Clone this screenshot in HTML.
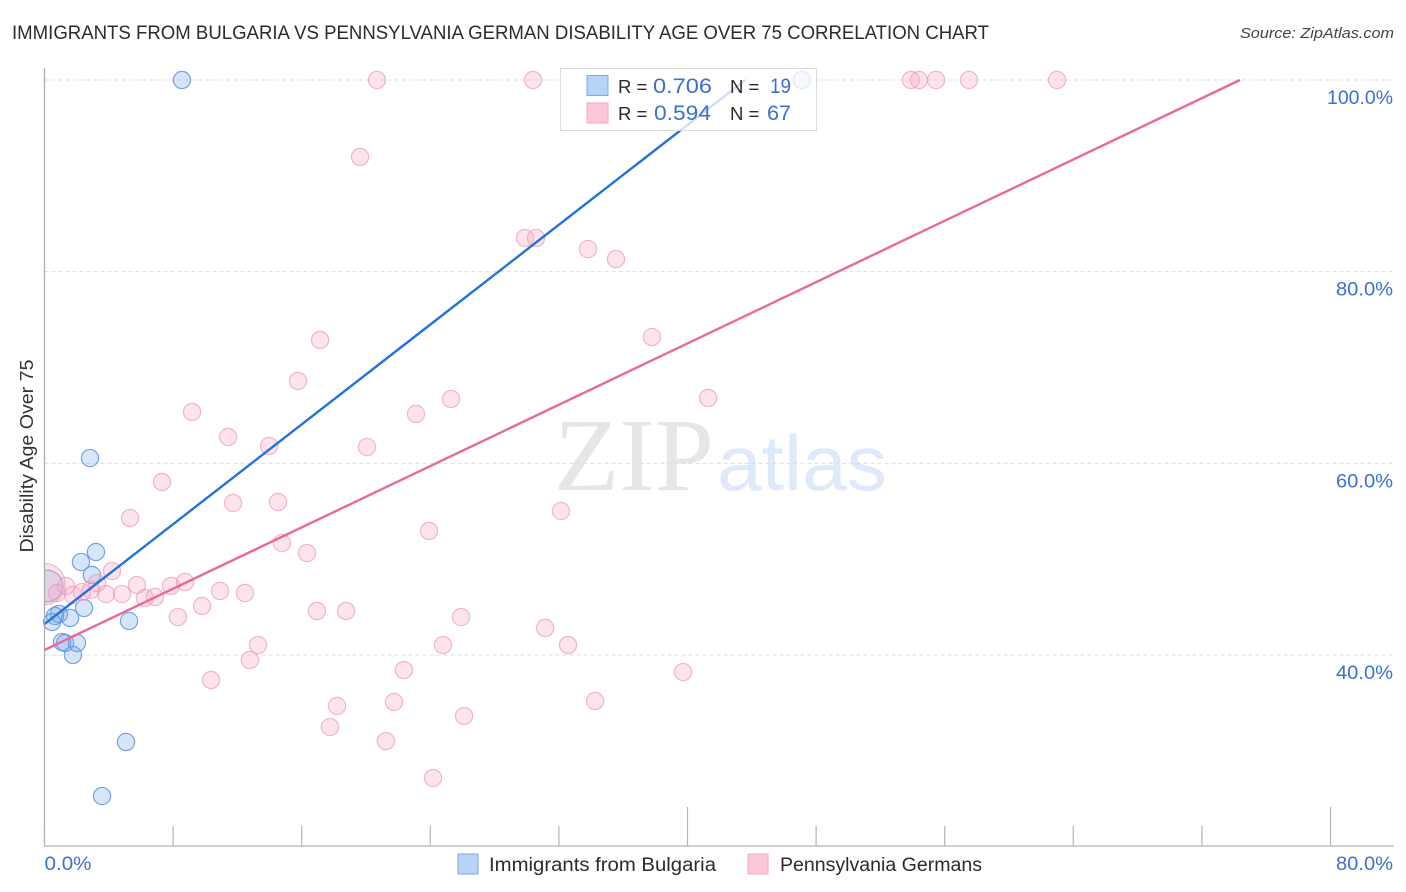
<!DOCTYPE html>
<html lang="en">
<head>
<meta charset="utf-8">
<title>Immigrants from Bulgaria vs Pennsylvania German Disability Age Over 75 Correlation Chart</title>
<style>
html,body{margin:0;padding:0;background:#fff;}
body{width:1406px;height:892px;overflow:hidden;}
svg{display:block;font-family:"Liberation Sans",sans-serif;}
</style>
</head>
<body>
<svg id="chart" width="1406" height="892" viewBox="0 0 1406 892" xmlns="http://www.w3.org/2000/svg">
  <rect x="0" y="0" width="1406" height="892" fill="#ffffff"/>
  <text x="12" y="39" font-size="19" fill="#2b2b2b" textLength="977" lengthAdjust="spacingAndGlyphs">IMMIGRANTS FROM BULGARIA VS PENNSYLVANIA GERMAN DISABILITY AGE OVER 75 CORRELATION CHART</text>
  <text x="1394" y="38" font-size="15" font-style="italic" fill="#444" text-anchor="end" textLength="154" lengthAdjust="spacingAndGlyphs">Source: ZipAtlas.com</text>

  <g>
    <text x="554" y="490" font-family="'Liberation Serif',serif" font-size="104" fill="#e6e6e6" textLength="160" lengthAdjust="spacingAndGlyphs">ZIP</text>
    <text x="717" y="490" font-size="78" fill="#deeafa" textLength="170" lengthAdjust="spacingAndGlyphs">atlas</text>
  </g>

  <g id="grid"></g>
  <g id="points-blue"></g>
  <g id="points-pink"></g>
  <rect x="0" y="555" width="44.5" height="60" fill="#ffffff"/>
  <g id="lines"></g>
  <g id="axes">
    <line x1="44.5" y1="68" x2="44.5" y2="846.5" stroke="#a8a8a8" stroke-width="1.2"/>
    <line x1="44" y1="846" x2="1394" y2="846" stroke="#b4b4b4" stroke-width="1.2"/>
  </g>
  <g id="ticks"></g>
  <g id="labels"></g>

  <text transform="translate(33,456) rotate(-90)" font-size="18" fill="#333" text-anchor="middle" textLength="193" lengthAdjust="spacingAndGlyphs">Disability Age Over 75</text>

  <g>
    <rect x="560.5" y="68.5" width="256" height="62" fill="#ffffff" fill-opacity="0.78" stroke="#dcdcdc" stroke-width="1"/>
    <rect x="587" y="75.5" width="21" height="20" fill="#b7d3f7" stroke="#7fa9e0" stroke-width="1"/>
    <rect x="587" y="103" width="21" height="20" fill="#fcc8d9" stroke="#f3a9c0" stroke-width="1"/>
    <text x="618" y="93" font-size="18.5" fill="#2b2b2b">R =</text>
    <text x="653" y="93" font-size="21" fill="#3b6fd4" textLength="59" lengthAdjust="spacingAndGlyphs">0.706</text>
    <text x="730" y="93" font-size="18.5" fill="#2b2b2b">N =</text>
    <text x="770" y="93" font-size="21" fill="#3b6fd4" textLength="21" lengthAdjust="spacingAndGlyphs">19</text>
    <text x="618" y="120" font-size="18.5" fill="#2b2b2b">R =</text>
    <text x="654" y="120" font-size="21" fill="#3b6fd4" textLength="57" lengthAdjust="spacingAndGlyphs">0.594</text>
    <text x="730" y="120" font-size="18.5" fill="#2b2b2b">N =</text>
    <text x="767" y="120" font-size="21" fill="#3b6fd4" textLength="24" lengthAdjust="spacingAndGlyphs">67</text>
  </g>

  <g>
    <rect x="458" y="854" width="20" height="20" fill="#b7d3f7" stroke="#7fa9e0" stroke-width="1"/>
    <text x="489" y="871" font-size="19" fill="#2b2b2b" textLength="227" lengthAdjust="spacingAndGlyphs">Immigrants from Bulgaria</text>
    <rect x="748" y="854" width="20" height="20" fill="#fcc8d9" stroke="#f3a9c0" stroke-width="1"/>
    <text x="780" y="871" font-size="19" fill="#2b2b2b" textLength="202" lengthAdjust="spacingAndGlyphs">Pennsylvania Germans</text>
  </g>
</svg>
<script>
var yTickValues = [100, 80, 60, 40];
var yTickLabels = ["100.0%", "80.0%", "60.0%", "40.0%"];
var xTickValues = [0, 8, 16, 24, 32, 40, 48, 56, 64, 72, 80];
var xAxisLabels = ["0.0%", "80.0%"];

var blueX = [8.55, 47.12, 2.83, 3.2, 2.27, 2.95, 0.15, 2.46, 0.65, 0.9, 0.47, 1.59, 5.26, 1.09, 1.28, 2.02, 1.77, 5.07, 3.58];
var blueY = [100, 100, 60.55, 50.75, 49.7, 48.35, 47.2, 44.9, 44.07, 44.28, 43.44, 43.86, 43.55, 41.35, 41.25, 41.25, 40, 30.92, 25.28];
var blueWeight = [1, 1, 1, 1, 1, 1, 1.85, 1, 1, 1, 1, 1, 1, 1, 1, 1, 1, 1, 1];

var pinkX = [20.68, 30.39, 53.9, 54.4, 55.46, 57.51, 62.99, 19.63, 29.89, 30.58, 33.81, 35.55, 17.14, 37.79, 15.77, 41.28, 25.29, 9.18, 23.11, 11.42, 13.97, 20.06, 7.31, 11.73, 14.53, 32.13, 5.32, 23.92, 14.77, 16.33, 4.2, 0, 0.78, 1.34, 1.77, 2.33, 2.89, 3.27, 3.83, 4.82, 5.75, 6.25, 6.87, 7.87, 8.74, 8.3, 9.8, 10.92, 12.47, 16.95, 18.76, 25.91, 31.14, 24.79, 32.57, 13.28, 12.78, 22.36, 39.72, 10.36, 34.25, 21.74, 18.2, 26.1, 17.76, 21.24, 24.17];
var pinkY = [100, 100, 100, 100, 100, 100, 100, 91.97, 83.51, 83.51, 82.36, 81.32, 72.87, 73.18, 68.59, 66.82, 66.71, 65.36, 65.15, 62.75, 61.81, 61.7, 58.05, 55.86, 55.96, 55.02, 54.29, 52.94, 51.69, 50.64, 48.76, 47.4, 46.47, 47.2, 46.26, 46.57, 46.78, 47.51, 46.36, 46.36, 47.3, 45.95, 46.05, 47.2, 47.62, 43.96, 45.11, 46.68, 46.47, 44.59, 44.59, 43.96, 42.82, 41.04, 41.04, 41.04, 39.48, 38.43, 38.22, 37.39, 35.2, 35.09, 34.68, 33.63, 32.48, 31.02, 27.16];
var pinkWeight = [1, 1, 1, 1, 1, 1, 1, 1, 1, 1, 1, 1, 1, 1, 1, 1, 1, 1, 1, 1, 1, 1, 1, 1, 1, 1, 1, 1, 1, 1, 1, 2.4, 1, 1, 1, 1, 1, 1, 1, 1, 1, 1, 1, 1, 1, 1, 1, 1, 1, 1, 1, 1, 1, 1, 1, 1, 1, 1, 1, 1, 1, 1, 1, 1, 1, 1, 1];

var blueTrendX = [0, 43.6];
var blueTrendY = [43.23, 100];
var pinkTrendX = [0, 74.37];
var pinkTrendY = [40.52, 100];

var NS = 'http://www.w3.org/2000/svg';
function xScale(v) { return 44.5 + v * 16.075; }
function yScale(v) { return 80 + (100 - v) * 9.583; }
function make(tag, attrs, parent) {
  var el = document.createElementNS(NS, tag);
  for (var k in attrs) { el.setAttribute(k, attrs[k]); }
  parent.appendChild(el);
  return el;
}

var grid = document.getElementById('grid');
yTickValues.forEach(function (v) {
  var gl = make('line', {x1: 44.5, x2: 1394, y1: yScale(v), y2: yScale(v), stroke: '#dedede', 'stroke-width': 1, 'stroke-dasharray': '4 3'}, grid);
  
  
});

var ticks = document.getElementById('ticks');
xTickValues.forEach(function (v, i) {
  var top = (i === 5 || i === 10) ? 807 : 826;
  var t = make('line', {x1: xScale(v), x2: xScale(v), y1: top, y2: 846, stroke: '#b4b4b4', 'stroke-width': 1.2}, ticks);
  
  
});

var labels = document.getElementById('labels');
yTickValues.forEach(function (v, i) {
  var lab = make('text', {x: 1393, y: yScale(v) + 24, 'font-size': 19.5, fill: '#3b6fd4', 'text-anchor': 'end', textLength: yTickLabels[i].length === 6 ? 66 : 57, lengthAdjust: 'spacingAndGlyphs'}, labels);
  lab.textContent = yTickLabels[i];
  
  
});
var xLabLeft = make('text', {x: xScale(0), y: 870, 'font-size': 19.5, fill: '#3b6fd4', textLength: 47, lengthAdjust: 'spacingAndGlyphs'}, labels);
xLabLeft.textContent = xAxisLabels[0];


var xLabRight = make('text', {x: 1393, y: 870, 'font-size': 19.5, fill: '#3b6fd4', 'text-anchor': 'end', textLength: 57, lengthAdjust: 'spacingAndGlyphs'}, labels);
xLabRight.textContent = xAxisLabels[1];



var blueGroup = document.getElementById('points-blue');
blueX.forEach(function (v, i) {
  var c = make('circle', {cx: xScale(v), cy: yScale(blueY[i]), r: 8.6 * blueWeight[i], fill: '#6ea3ea', 'fill-opacity': 0.28, stroke: '#5f97df', 'stroke-opacity': 0.85, 'stroke-width': 1.2}, blueGroup);
  
  
});

var pinkGroup = document.getElementById('points-pink');
pinkX.forEach(function (v, i) {
  var c = make('circle', {cx: xScale(v), cy: yScale(pinkY[i]), r: 8.6 * pinkWeight[i], fill: '#f8a5bf', 'fill-opacity': 0.3, stroke: '#ee9ab6', 'stroke-opacity': 0.7, 'stroke-width': 1.2}, pinkGroup);
  
  
});

var lineGroup = document.getElementById('lines');
var blueLine = make('line', {x1: xScale(blueTrendX[0]), y1: yScale(blueTrendY[0]), x2: xScale(blueTrendX[1]), y2: yScale(blueTrendY[1]), stroke: '#2272d9', 'stroke-width': 2.4}, lineGroup);


var pinkLine = make('line', {x1: xScale(pinkTrendX[0]), y1: yScale(pinkTrendY[0]), x2: xScale(pinkTrendX[1]), y2: yScale(pinkTrendY[1]), stroke: '#e96a9a', 'stroke-width': 2.4}, lineGroup);


</script>
</body>
</html>
